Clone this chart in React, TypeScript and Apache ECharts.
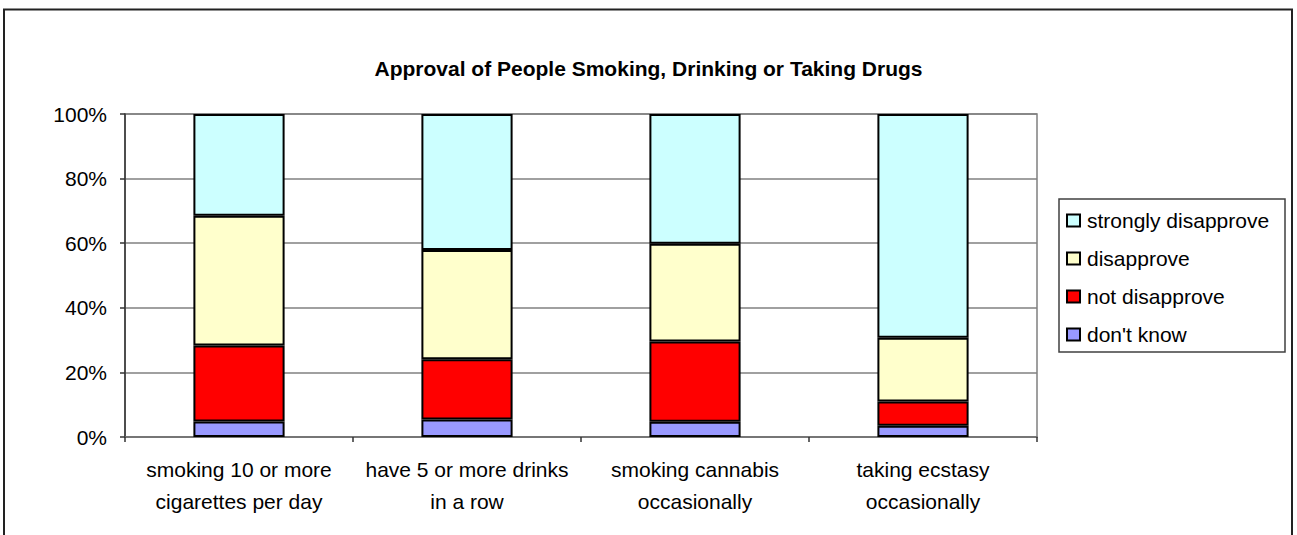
import React, { useEffect, useRef } from "react";
import * as echarts from "echarts";

const categories = [
  "smoking 10 or more\ncigarettes per day",
  "have 5 or more drinks\nin a row",
  "smoking cannabis\noccasionally",
  "taking ecstasy\noccasionally",
];

// shares in percent, stacked bottom-up
const dontKnow = [4.8, 5.4, 4.7, 3.5];
const notDisapprove = [23.5, 18.7, 24.9, 7.5];
const disapprove = [40.2, 33.8, 30.2, 19.7];
const stronglyDisapprove = [31.5, 42.1, 40.2, 69.3];

const seriesNames = ["don't know", "not disapprove", "disapprove", "strongly disapprove"];
const seriesColors = ["#9999FF", "#FF0000", "#FFFFCC", "#CCFFFF"];
const seriesValues = [dontKnow, notDisapprove, disapprove, stronglyDisapprove];

const FONT = "'Liberation Sans', Arial, sans-serif";
const FS = 21;

export default function App() {
  const ref = useRef<HTMLDivElement>(null);

  useEffect(() => {
    if (!ref.current) return;
    const chart = echarts.init(ref.current, undefined, { renderer: "svg" });
    chart.setOption({
      animation: false,
      backgroundColor: "#ffffff",
      textStyle: { fontFamily: FONT, color: "#000" },
      title: {
        text: "Approval of People Smoking, Drinking or Taking Drugs",
        left: "center",
        top: 56,
        padding: 0,
        textStyle: {
          fontFamily: FONT,
          fontSize: 21,
          fontWeight: "bold",
          color: "#000",
          lineHeight: 24,
        },
      },
      grid: {
        left: 125,
        right: 260,
        top: 114,
        bottom: 98,
        show: true,
        borderColor: "#808080",
        borderWidth: 1.5,
      },
      legend: {
        orient: "vertical",
        left: 1066,
        top: 210,
        padding: 0,
        itemGap: 17,
        itemWidth: 13,
        itemHeight: 12,
        icon: "rect",
        data: [...seriesNames].reverse(),
        textStyle: { fontFamily: FONT, fontSize: FS, color: "#000", lineHeight: 20, padding: [0, 0, 0, 2] },
      },
      xAxis: {
        type: "category",
        data: categories,
        axisLine: { lineStyle: { color: "#707070", width: 1.5 } },
        axisTick: { show: true, length: 5, lineStyle: { color: "#333", width: 1.5 } },
        axisLabel: {
          margin: 16,
          fontFamily: FONT,
          fontSize: FS,
          color: "#000",
          lineHeight: 32,
          interval: 0,
        },
        splitLine: { show: false },
      },
      yAxis: {
        type: "value",
        min: 0,
        max: 100,
        interval: 20,
        axisLine: { show: true, lineStyle: { color: "#333", width: 1.5 } },
        axisTick: { show: true, length: 5, lineStyle: { color: "#333", width: 1.5 } },
        axisLabel: {
          margin: 18,
          formatter: "{value}%",
          fontFamily: FONT,
          fontSize: FS,
          color: "#000",
        },
        splitLine: { show: true, lineStyle: { color: "#808080", width: 1.5 } },
      },
      series: seriesNames.map((name, i) => ({
        name,
        type: "bar",
        stack: "total",
        barWidth: "40%",
        data: seriesValues[i],
        itemStyle: {
          color: seriesColors[i],
          borderColor: "#000",
          borderWidth: 2,
        },
      })),
      graphic: [
        {
          type: "rect",
          silent: true,
          shape: { x: 4, y: 9.5, width: 1288, height: 540 },
          style: { fill: "none", stroke: "#222", lineWidth: 2 },
          z: 100,
        },
        {
          type: "rect",
          silent: true,
          shape: { x: 1059, y: 199, width: 226, height: 153 },
          style: { fill: "none", stroke: "#404040", lineWidth: 1.5 },
          z: 100,
        },
      ],
    });
    return () => chart.dispose();
  }, []);

  return (
    <div
      ref={ref}
      style={{ position: "absolute", left: 0, top: 0, width: 1297, height: 535 }}
    />
  );
}
